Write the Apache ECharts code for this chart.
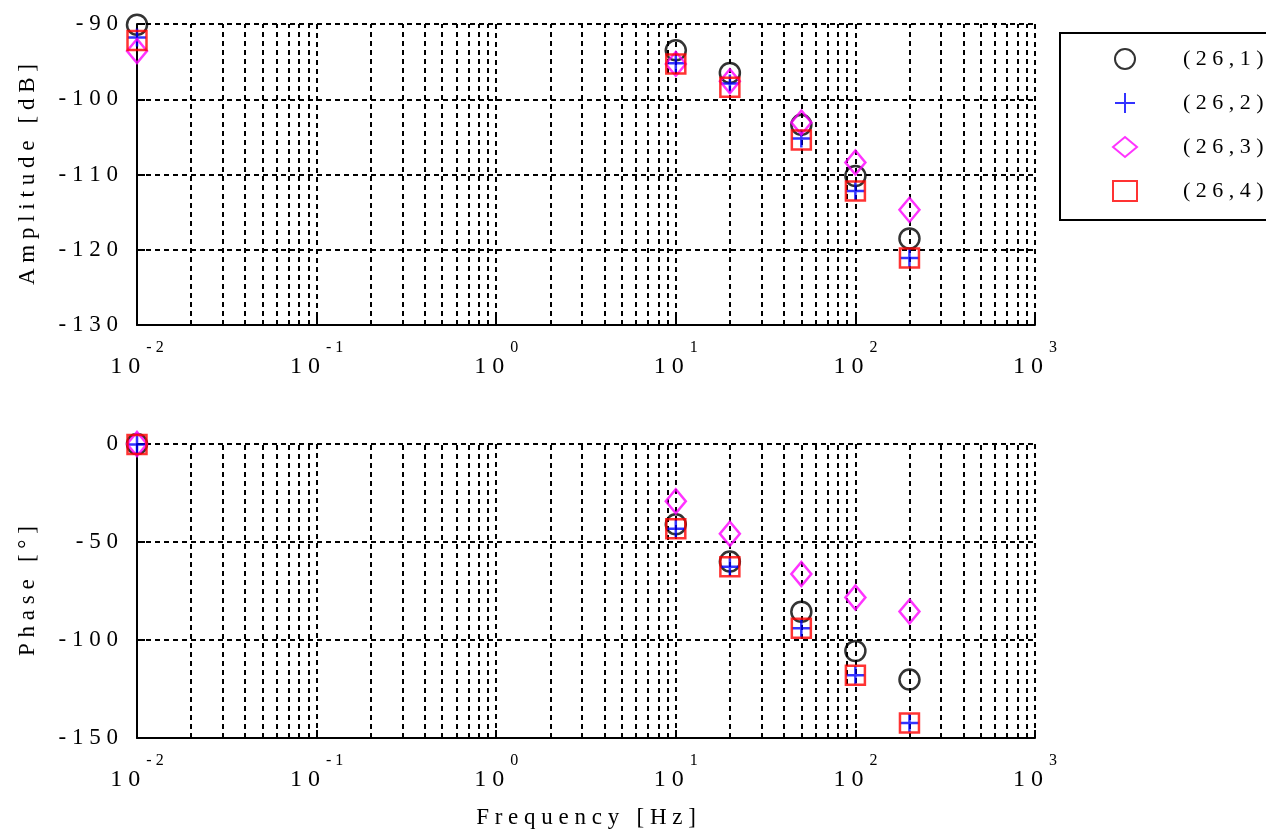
<!DOCTYPE html>
<html><head><meta charset="utf-8">
<script src="https://cdn.jsdelivr.net/npm/echarts@6/dist/echarts.min.js"></script>
<style>html,body{margin:0;padding:0;background:#fff}#c{width:1266px;height:832px}</style>
</head><body><div id="c"></div>
<script>
const freq = [0.01, 10, 20, 50, 100, 200];
const seriesNames = ['(26,1)', '(26,2)', '(26,3)', '(26,4)'];
const amp1 = [-90.1, -93.5, -96.5, -103.4, -110.2, -118.5];
const amp2 = [-91.8, -95.2, -97.9, -105.2, -112.2, -121.1];
const amp3 = [-93.6, -95.3, -97.6, -103.1, -108.4, -114.7];
const amp4 = [-92.2, -95.3, -98.4, -105.4, -112.2, -121.1];
const ph1 = [0, -41, -60, -85.6, -105.6, -120.2];
const ph2 = [-0.3, -43.2, -62.6, -94, -118, -142.4];
const ph3 = [0, -29.2, -45.8, -66.3, -78.3, -85.5];
const ph4 = [-0.3, -43.2, -62.6, -94, -118, -142.4];
const xMin = 0.01, xMax = 1000;
const ampMin = -130, ampMax = -90, ampStep = 10;
const phMin = -150, phMax = 0, phStep = 50;
const decades = [0.01, 0.1, 1, 10, 100];
const minorMult = [2, 3, 4, 5, 6, 7, 8, 9];
const xMinorTicks = [];
decades.forEach(d => minorMult.forEach(m => xMinorTicks.push(+(d * m).toPrecision(3))));

const FONT = 'Liberation Serif';
const spaced = s => String(s).split('').join(' ');
const black = '#000';
const dash = [5, 4];

const styles = [
  { symbol: 'circle', symbolSize: 20, itemStyle: { color: 'transparent', borderColor: '#000', borderWidth: 2.5 } },
  { symbol: 'path://M0,10 L20,10 M10,0 L10,20', symbolSize: 18, itemStyle: { color: 'transparent', borderColor: '#0000ff', borderWidth: 2.5 } },
  { symbol: 'diamond', symbolSize: [20, 24], itemStyle: { color: 'transparent', borderColor: '#ff00ff', borderWidth: 2.5 } },
  { symbol: 'rect', symbolSize: 19, itemStyle: { color: 'transparent', borderColor: '#ff0000', borderWidth: 2.5 } }
];
const ampData = [amp1, amp2, amp3, amp4];
const phData = [ph1, ph2, ph3, ph4];

function xAxisCfg(gi, withName) {
  const a = {
    type: 'log', logBase: 10, gridIndex: gi, min: xMin, max: xMax,
    axisLine: { show: true, onZero: false, lineStyle: { color: black, width: 2 } },
    axisTick: { show: true, inside: true, length: 8, lineStyle: { color: black, width: 2 } },
    splitLine: { show: true, lineStyle: { color: black, width: 2, type: dash } },
    axisLabel: {
      margin: 15,
      formatter: v => '{b|1 0}{e|' + spaced(Math.round(Math.log10(v))) + '}',
      rich: {
        b: { fontFamily: FONT, fontSize: 24, color: black },
        e: { fontFamily: FONT, fontSize: 16, color: black, padding: [0, 0, 38, 6] }
      }
    }
  };
  if (withName) {
    a.name = 'F r e q u e n c y   [ H z ]';
    a.nameLocation = 'middle';
    a.nameGap = 68;
    a.nameTextStyle = { fontFamily: FONT, fontSize: 23, color: black };
  }
  return a;
}
function yAxisCfg(gi, mn, mx, step, name, gap) {
  return {
    type: 'value', gridIndex: gi, min: mn, max: mx, interval: step,
    name: name, nameLocation: 'middle', nameGap: gap, nameRotate: 90,
    nameTextStyle: { fontFamily: FONT, fontSize: 23, color: black },
    axisLine: { show: true, onZero: false, lineStyle: { color: black, width: 2 } },
    axisTick: { show: true, inside: true, length: 8, lineStyle: { color: black, width: 2 } },
    splitLine: { show: true, showMaxLine: true, lineStyle: { color: black, width: 2, type: dash } },
    axisLabel: { margin: 19, fontFamily: FONT, fontSize: 23, color: black, formatter: v => spaced(v) }
  };
}

const series = [];
[ampData, phData].forEach((grp, gi) => {
  grp.forEach((vals, si) => {
    const s = Object.assign({
      type: 'scatter', name: seriesNames[si], xAxisIndex: gi, yAxisIndex: gi,
      data: freq.map((f, i) => [f, vals[i]]), clip: false, z: 5 + si,
      emphasis: { disabled: true }
    }, styles[si]);
    if (si === 0) {
      s.markLine = {
        silent: true, animation: false, symbol: ['none', 'none'],
        label: { show: false },
        lineStyle: { color: black, width: 2, type: dash },
        emphasis: { disabled: true },
        data: xMinorTicks.map(v => ({ xAxis: v }))
      };
    }
    series.push(s);
  });
});

const chart = echarts.init(document.getElementById('c'), null, { renderer: 'canvas' });
chart.setOption({
  animation: false,
  backgroundColor: '#fff',
  grid: [
    { left: 137, right: 231, top: 24, height: 301 },
    { left: 137, right: 231, top: 444, height: 294 }
  ],
  xAxis: [xAxisCfg(0, false), xAxisCfg(1, true)],
  yAxis: [
    yAxisCfg(0, ampMin, ampMax, ampStep, 'A m p l i t u d e   [ d B ]', 98),
    yAxisCfg(1, phMin, phMax, phStep, 'P h a s e   [ ° ]', 98)
  ],
  legend: {
    left: 1060, top: 33, orient: 'vertical',
    data: seriesNames,
    padding: [15, 40, 18, 52],
    itemWidth: 24, itemHeight: 20, itemGap: 22,
    borderColor: black, borderWidth: 2, backgroundColor: '#fff',
    selectedMode: false,
    formatter: n => spaced(n),
    textStyle: { fontFamily: FONT, fontSize: 22, color: black, padding: [0, 0, 0, 41] }
  },
  series: series
});
</script></body></html>
